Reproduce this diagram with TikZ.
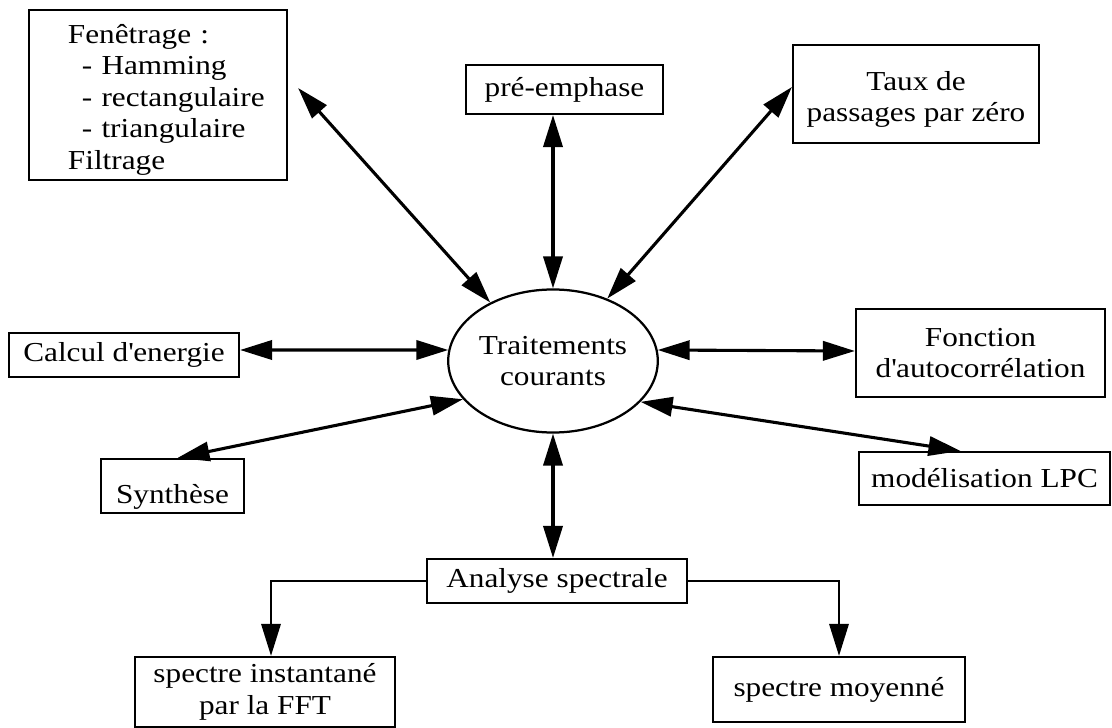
\documentclass[tikz,border=0pt]{standalone}
\usepackage{fontspec}
\setmainfont{Liberation Serif}[FakeStretch=1.14]
\usetikzlibrary{arrows.meta,shapes.geometric}

\begin{document}
\begin{tikzpicture}[x=0.025cm, y=-0.025cm, >={Triangle[length=0.8cm,width=0.48cm]}, every node/.style={font=\fontsize{19.5}{22.4}\selectfont}, box/.style={draw, line width=1.5pt, inner sep=0pt, align=center}, dbl/.style={<->, line width=2.2pt}, arr/.style={->, line width=1.9pt}]
\useasboundingbox (0,0) rectangle (1112,728);
\node[box,minimum width=6.45cm,minimum height=4.25cm,text width=4.5cm,align=left] (fen) at (158,95) {\mbox{\rule{0pt}{0.7cm}Fenêtrage :}\\\mbox{\hspace*{0.35cm}- Hamming}\\\mbox{\hspace*{0.35cm}- rectangulaire}\\\mbox{\hspace*{0.35cm}- triangulaire}\\\mbox{Filtrage}};
\node[box,minimum width=4.925cm,minimum height=1.225cm] (pre) at (564.5,89.5) {pré-emphase};
\node[box,minimum width=6.15cm,minimum height=2.45cm] (taux) at (916,94) {\rule{0pt}{0.75cm}Taux de\\passages par zéro};
\node[ellipse,draw,line width=1.6pt,inner sep=0pt,align=center,minimum width=5.15cm,minimum height=3.575cm] (ell) at (553,361) {Traitements\\courants};
\node[box,minimum width=5.75cm,minimum height=1.1cm] (calc) at (124,355) {Calcul d\textquotesingle energie};
\node[box,minimum width=6.225cm,minimum height=2.2cm] (fonc) at (980.5,353) {Fonction\\d\textquotesingle autocorrélation};
\node[box,minimum width=3.575cm,minimum height=1.35cm,text height=0.85cm,text depth=0pt] (syn) at (172.5,486) {Synthèse};
\node[box,minimum width=6.275cm,minimum height=1.325cm] (lpc) at (984.5,478.5) {modélisation LPC};
\node[box,minimum width=6.5cm,minimum height=1.1cm] (ana) at (557,581) {Analyse spectrale};
\node[box,minimum width=6.5cm,minimum height=1.75cm] (inst) at (265,692) {spectre instantané\\par la FFT};
\node[box,minimum width=6.3cm,minimum height=1.625cm] (moy) at (839,689.5) {spectre moyenné};
\draw[dbl] ([xshift=0.25cm,yshift=0.175cm]fen.east) -- (ell.137);
\draw[dbl] (ell.north |- pre.south) -- (ell.north);
\draw[dbl] ([yshift=0.175cm]taux.west) -- (ell.49);
\draw[dbl] ([yshift=0.125cm]calc.east) -- (ell.174);
\draw[dbl] (ell.6) -- ([yshift=0.05cm]fonc.west);
\draw[dbl] ([xshift=0.125cm]syn.north) -- (ell.203);
\draw[dbl] (ell.-25) -- ([xshift=-0.6cm]lpc.north);
\draw[dbl] (ell.south) -- (ell.south |- ana.north);
\draw[arr] (ana.west) -| ([xshift=0.15cm]inst.north);
\draw[arr] (ana.east) -| (moy.north);
\end{tikzpicture}
\end{document}
